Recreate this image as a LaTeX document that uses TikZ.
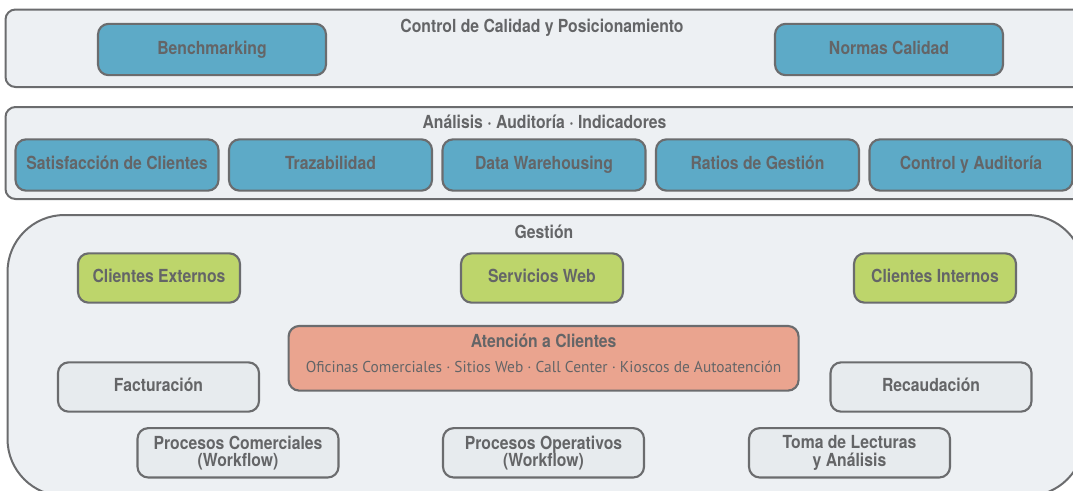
\documentclass[tikz,border=0pt]{standalone}
\usepackage{fontspec}
\setmainfont{TeX Gyre Heros}
\newfontfamily\condfont[FakeStretch=0.875]{TeX Gyre Heros}
\newfontfamily\subfont[FakeStretch=0.98]{PT Sans}
\definecolor{panelfill}{HTML}{EDF0F3}
\definecolor{boxgray}{HTML}{E7EBEE}
\definecolor{linegray}{HTML}{6B6C6E}
\definecolor{textgray}{HTML}{646567}
\definecolor{boxblue}{HTML}{5DAAC7}
\definecolor{boxgreen}{HTML}{BDD56B}
\definecolor{boxsalmon}{HTML}{EAA48F}

\begin{document}
\begin{tikzpicture}[x=0.75pt,y=0.75pt,yscale=-1,xscale=1,
  panel/.style={draw=linegray,line width=1.5pt,fill=panelfill,rounded corners=7.5pt},
  paneltitle/.style={anchor=base,inner sep=0pt,text=textgray,font=\condfont\bfseries\fontsize{13.5pt}{13pt}\selectfont},
  box/.style={draw=linegray,line width=1.6pt,rounded corners=8pt,inner sep=0pt,align=center,
    text=textgray,font=\condfont\bfseries\fontsize{13.5pt}{13pt}\selectfont},
  oneline/.style={text height=9.8pt,text depth=2.8pt},
  bluebox/.style={box,oneline,fill=boxblue,minimum height=38.5pt},
  greenbox/.style={box,oneline,fill=boxgreen,minimum width=121.5pt,minimum height=37pt},
  graybox/.style={box,fill=boxgray,minimum width=150.75pt,minimum height=37pt}
]
\useasboundingbox (0,0) rectangle (1073,490);
\clip (0,0) rectangle (1073,490);

% panels
\draw [panel] (5.5,9.5) rectangle (1085,87) ;
\draw [panel] (5.5,107) rectangle (1085,199) ;
\draw [panel,rounded corners=42.75pt] (7.5,215) rectangle (1084,496) ;

% control de calidad
\node [paneltitle] (ttlcal) at (542,32.5) {Control de Calidad y Posicionamiento};
\node [bluebox,minimum width=171pt] (bench) at (212,49.5) {Benchmarking};
\node [bluebox,minimum width=171pt] (normas) at (889,49.5) {Normas Calidad};

% analisis
\node [paneltitle] (ttlana) at (544.5,128.5) {Análisis · Auditoría · Indicadores};
\node [bluebox,minimum width=152.25pt] (satis) at (117,165) {Satisfacción de Clientes};
\node [bluebox,minimum width=152.25pt] (traza) at (330.5,165) {Trazabilidad};
\node [bluebox,minimum width=152.25pt] (dataw) at (544,165) {Data Warehousing};
\node [bluebox,minimum width=152.25pt] (ratios) at (757.5,165) {Ratios de Gestión};
\node [bluebox,minimum width=152.25pt] (audit) at (971,165) {Control y Auditoría};

% gestion
\node [paneltitle] (ttlges) at (544,238.5) {Gestión};
\node [greenbox] (cliext) at (159,278) {Clientes Externos};
\node [greenbox] (servweb) at (542,278) {Servicios Web};
\node [greenbox] (cliint) at (935,278) {Clientes Internos};

\node [box,fill=boxsalmon,minimum width=382.5pt,minimum height=48.5pt] (atc) at (543.6,358.3) {};
\node [paneltitle] (atctitle) at (543.6,347.3) {Atención a Clientes};
\node [anchor=base,inner sep=0pt,text=textgray,font=\subfont\fontsize{11.8pt}{14pt}\selectfont] (atcsub) at (543.6,372.7)
  {Oficinas Comerciales · Sitios Web · Call Center · Kioscos de Autoatención};

\node [graybox,oneline] (fact) at (158.5,387) {Facturación};
\node [graybox,oneline] (recau) at (931,387) {Recaudación};
\node [graybox] (proccom) at (238,452.8) {Procesos Comerciales\\(Workflow)};
\node [graybox] (procop) at (543.5,452.8) {Procesos Operativos\\(Workflow)};
\node [graybox] (toma) at (849.5,452.8) {Toma de Lecturas\\y Análisis};
\end{tikzpicture}
\end{document}
